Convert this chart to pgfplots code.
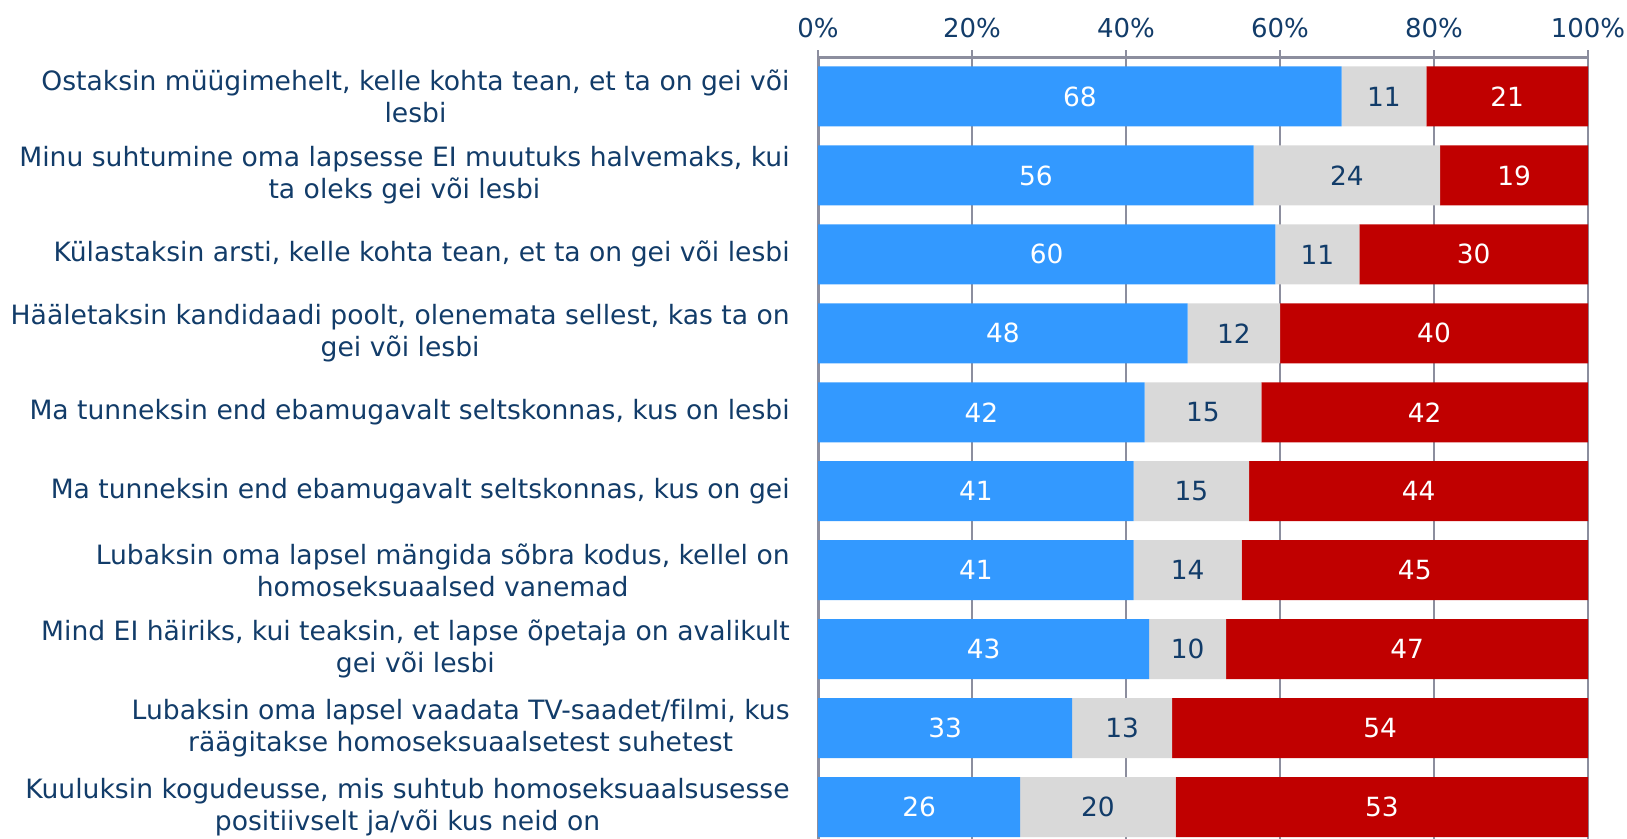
\documentclass[border=0pt]{standalone}
\usepackage{pgfplots}
\pgfplotsset{compat=1.18}
\usepackage{pgfplotstable}
\usepackage{fontspec}
\setmainfont{DejaVu Sans}[Ligatures=NoCommon]
\definecolor{cblue}{HTML}{3399FF}
\definecolor{cgray}{HTML}{D9D9D9}
\definecolor{cred}{HTML}{C00000}
\definecolor{navy}{HTML}{123C69}
\definecolor{gridc}{HTML}{8C8E9E}

\pgfplotstableread{
y b g r bl gl rl
0 68 11 21 68 11 21
1 56.57 24.24 19.19 56 24 19
2 59.41 10.89 29.70 60 11 30
3 48 12 40 48 12 40
4 42.42 15.15 42.42 42 15 42
5 41 15 44 41 15 44
6 41 14 45 41 14 45
7 43 10 47 43 10 47
8 33 13 54 33 13 54
9 26.26 20.20 53.54 26 20 53
}\data

\newcommand{\lblfont}{\fontsize{13.3}{16}\selectfont}
\newcommand{\numfont}{\fontsize{13.2}{15.5}\selectfont}

\pgfplotsset{
  common/.style={
    at={(409pt,0pt)}, anchor=south west,
    scale only axis, width=385pt, height=391pt,
    xmin=0, xmax=100, ymin=-0.5, ymax=9.405, y dir=reverse,
  },
  lab/.style={only marks, mark=none, nodes near coords, point meta=explicit symbolic,
    every node near coord/.style={font=\numfont, anchor=center, inner sep=0pt, text=#1}},
}

\begin{document}
\begin{tikzpicture}
\begin{axis}[
  common,
  xbar stacked, bar width=0.76,
  axis x line*=top, axis y line*=left,
  axis line style={gridc, line width=1.5pt},
  xtick={0,20,40,60,80,100},
  xticklabels={0\%,20\%,40\%,60\%,80\%,100\%},
  xticklabel style={font=\fontsize{13}{15.5}\selectfont, text=navy, inner sep=0pt, anchor=south, yshift=6pt},
  tick align=outside,
  major tick length=3.5pt,
  x tick style={gridc, line width=1.25pt},
  xmajorgrids, major grid style={gridc, line width=1.25pt},
  ytick={0,1,2,3,4,5,6,7,8,9},
  yticklabels={
    {Ostaksin müügimehelt, kelle kohta tean, et ta on gei või\\lesbi},
    {Minu suhtumine oma lapsesse EI muutuks halvemaks, kui\\ta oleks gei või lesbi},
    {Külastaksin arsti, kelle kohta tean, et ta on gei või lesbi},
    {Hääletaksin kandidaadi poolt, olenemata sellest, kas ta on\\gei või lesbi},
    {Ma tunneksin end ebamugavalt seltskonnas, kus on lesbi},
    {Ma tunneksin end ebamugavalt seltskonnas, kus on gei},
    {Lubaksin oma lapsel mängida sõbra kodus, kellel on\\homoseksuaalsed vanemad},
    {Mind EI häiriks, kui teaksin, et lapse õpetaja on avalikult\\gei või lesbi},
    {Lubaksin oma lapsel vaadata TV-saadet/filmi, kus\\räägitakse homoseksuaalsetest suhetest},
    {Kuuluksin kogudeusse, mis suhtub homoseksuaalsusesse\\positiivselt ja/või kus neid on}
  },
  yticklabel style={font=\lblfont, text=navy, align=center, inner sep=0pt, anchor=east, xshift=-10.5pt},
  y tick style={draw=none},
  clip=false,
]
\addplot[fill=cblue, draw=none] table[x=b, y=y] {\data};
\addplot[fill=cgray, draw=none] table[x=g, y=y] {\data};
\addplot[fill=cred, draw=none] table[x=r, y=y] {\data};
\end{axis}
\begin{axis}[common, hide axis, clip=false]
\addplot[lab=white] table[x expr=\thisrow{b}/2, y=y, meta=bl] {\data};
\addplot[lab=navy] table[x expr=\thisrow{b}+\thisrow{g}/2, y=y, meta=gl] {\data};
\addplot[lab=white] table[x expr=\thisrow{b}+\thisrow{g}+\thisrow{r}/2, y=y, meta=rl] {\data};
\end{axis}
\pgfresetboundingbox
\path[use as bounding box] (0,0) rectangle (813.5pt,419.5pt);
\end{tikzpicture}
\end{document}
